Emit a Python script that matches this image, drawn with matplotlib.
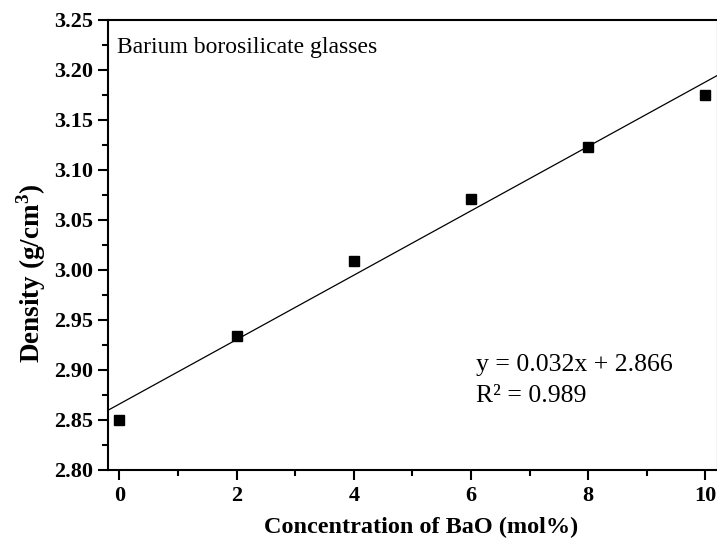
import numpy as np
from matplotlib import pyplot as plt
from matplotlib.ticker import MultipleLocator

bao = [0, 2, 4, 6, 8, 10]
density = [2.850, 2.934, 3.009, 3.071, 3.123, 3.175]

plt.rcParams['font.family'] = 'Liberation Serif'
plt.rcParams['mathtext.fontset'] = 'custom'
plt.rcParams['mathtext.rm'] = 'Liberation Serif'
plt.rcParams['mathtext.bf'] = 'Liberation Serif:bold'

W, H = 717, 548
fig = plt.figure(figsize=(W / 100, H / 100), dpi=100)
# right edge of the axes runs just past the picture, like the original
ax = fig.add_axes([108.3 / W, 1 - 470 / H, 609.4 / W, 450 / H])

slope, icpt = np.polyfit(bao, density, 1)
xl = np.array([-0.19, 10.2])
ax.plot(xl, slope * xl + icpt, color='black', lw=0.9)
ax.plot(bao, density, 's', color='black', ms=7.8)

ax.set_xlim(-0.19, 10.21)
ax.set_ylim(2.80, 3.25)
ax.xaxis.set_major_locator(MultipleLocator(2))
ax.xaxis.set_minor_locator(MultipleLocator(1))
ax.yaxis.set_major_locator(MultipleLocator(0.05))
ax.yaxis.set_minor_locator(MultipleLocator(0.025))
ax.yaxis.set_major_formatter(plt.FormatStrFormatter('%.2f'))

for s in ax.spines.values():
    s.set_linewidth(1.5)
ax.tick_params(which='major', direction='out', length=7, width=1.5,
               labelsize=16, pad=4)
ax.tick_params(axis='x', which='major', pad=4.5)
ax.tick_params(which='minor', direction='out', length=4.3, width=1.5)
for lab in ax.get_xticklabels() + ax.get_yticklabels():
    lab.set_fontweight('bold')

fig.text(421.5 / W, 1 - 527 / H, 'Concentration of BaO (mol%)', fontsize=17.5,
         fontweight='bold', ha='center', va='center')
fig.text(31 / W, 1 - 273 / H, 'Density (g/cm$^{\\mathbf{3}}$)', fontsize=19.5,
         fontweight='bold', ha='center', va='center', rotation=90)

ax.text(-0.034, 3.2167, 'Barium borosilicate glasses', fontsize=17, va='baseline')
ax.text(6.08, 2.8993, 'y = 0.032x + 2.866', fontsize=18.5, va='baseline')
ax.text(6.08, 2.8683, 'R² = 0.989', fontsize=18.5, va='baseline')

plt.savefig('out.png', dpi=100)
